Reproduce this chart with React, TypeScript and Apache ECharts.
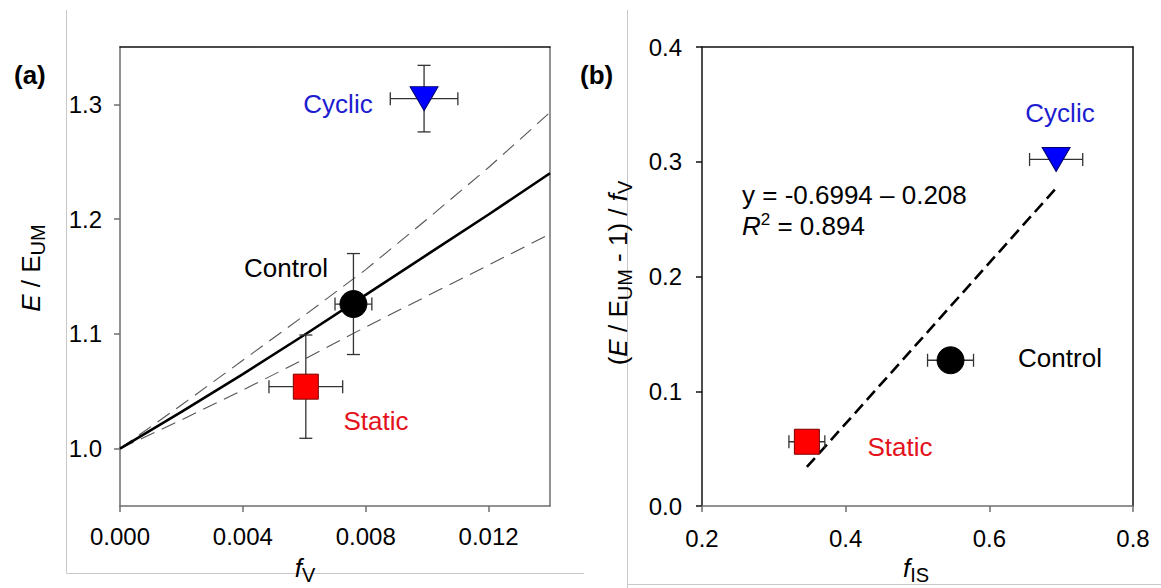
import React, { useEffect, useRef } from 'react';
import * as echarts from 'echarts';

// ---------- Panel (a) data ----------
const aNames = ['Cyclic', 'Control', 'Static'];
const aFv = [0.0099, 0.0076, 0.00605];
const aE = [1.305, 1.126, 1.054];
const aFvErr = [0.0011, 0.0006, 0.0012];
const aEErr = [0.029, 0.044, 0.045];

const modelFv = [0, 0.002, 0.004, 0.006, 0.008, 0.01, 0.012, 0.014];
const modelMid = [1.0, 1.032, 1.065, 1.099, 1.134, 1.169, 1.204, 1.24];
const modelUpper = [1.0, 1.038, 1.077, 1.116, 1.156, 1.2, 1.245, 1.293];
const modelLower = [1.0, 1.025, 1.051, 1.078, 1.106, 1.133, 1.16, 1.187];

const aXTicks = [0, 0.004, 0.008, 0.012];
const aYTicks = [1.0, 1.1, 1.2, 1.3];

// ---------- Panel (b) data ----------
const bNames = ['Cyclic', 'Control', 'Static'];
const bFis = [0.693, 0.546, 0.346];
const bY = [0.302, 0.127, 0.056];
const bFisErr = [0.037, 0.032, 0.025];
const fitFis = [0.346, 0.693];
const fitY = [0.034, 0.277];

const bXTicks = [0.2, 0.4, 0.6, 0.8];
const bYTicks = [0, 0.1, 0.2, 0.3, 0.4];

const FONT = 'Liberation Sans, Arial, sans-serif';
const GRAY = '#6e6e6e';
const BLACK = '#111';

const markerStyles = [
  { symbol: 'triangle', rotate: 180, size: [28, 24], color: '#0000ff', border: '#00006a' },
  { symbol: 'circle', rotate: 0, size: 27, color: '#000000', border: '#000000' },
  { symbol: 'rect', rotate: 0, size: 25, color: '#ff0000', border: '#7a0000' },
];

function errRender(params: any, api: any) {
  const x = api.value(0);
  const y = api.value(1);
  const dx = api.value(2);
  const dy = api.value(3);
  const cap = 6.5;
  const style = { stroke: '#333', lineWidth: 1.3 };
  const children: any[] = [];
  if (dx > 0) {
    const l = api.coord([x - dx, y]);
    const r = api.coord([x + dx, y]);
    children.push({ type: 'line', shape: { x1: l[0], y1: l[1], x2: r[0], y2: r[1] }, style });
    children.push({ type: 'line', shape: { x1: l[0], y1: l[1] - cap, x2: l[0], y2: l[1] + cap }, style });
    children.push({ type: 'line', shape: { x1: r[0], y1: r[1] - cap, x2: r[0], y2: r[1] + cap }, style });
  }
  if (dy > 0) {
    const t = api.coord([x, y + dy]);
    const b = api.coord([x, y - dy]);
    children.push({ type: 'line', shape: { x1: t[0], y1: t[1], x2: b[0], y2: b[1] }, style });
    children.push({ type: 'line', shape: { x1: t[0] - cap, y1: t[1], x2: t[0] + cap, y2: t[1] }, style });
    children.push({ type: 'line', shape: { x1: b[0] - cap, y1: b[1], x2: b[0] + cap, y2: b[1] }, style });
  }
  return { type: 'group', children };
}

const rich = {
  n: { fontSize: 26, fontFamily: FONT, fill: '#000' },
  i: { fontSize: 26, fontFamily: FONT, fontStyle: 'italic', fill: '#000' },
  s: { fontSize: 20, fontFamily: FONT, fill: '#000', padding: [14, 0, 0, 0] },
  p: { fontSize: 17, fontFamily: FONT, fill: '#000', padding: [0, 0, 14, 0] },
};

function txt(x: number, y: number, text: string, extra: any = {}, rotation = 0, align = 'center') {
  return {
    type: 'text',
    x,
    y,
    rotation,
    z: 100,
    style: {
      text,
      fontSize: 26,
      fontFamily: FONT,
      fill: '#000',
      align,
      verticalAlign: 'middle',
      rich,
      ...extra,
    },
  };
}

function axisBase(color: string, lineW = 1.5) {
  return {
    axisLine: { show: true, onZero: false, lineStyle: { color, width: lineW } },
    splitLine: { show: false },
  };
}

export default function App() {
  const ref = useRef<HTMLDivElement>(null);

  useEffect(() => {
    if (!ref.current) return;
    const chart = echarts.init(ref.current, undefined, { renderer: 'svg' });

    const tickLabel = { fontSize: 24, fontFamily: FONT, color: '#000' };

    const option: any = {
      animation: false,
      backgroundColor: '#fff',
      grid: [
        { left: 120, top: 47, width: 430, height: 459 },
        { left: 702, top: 47, width: 431, height: 459 },
      ],
      xAxis: [
        {
          gridIndex: 0, type: 'value', min: 0, max: 0.014, position: 'bottom',
          ...axisBase(GRAY),
          axisTick: { show: true, inside: false, length: 6, customValues: aXTicks, lineStyle: { color: GRAY, width: 1.5 } },
          axisLabel: { ...tickLabel, margin: 18, customValues: aXTicks, formatter: (v: number) => v.toFixed(3) },
        },
        {
          gridIndex: 0, type: 'value', min: 0, max: 0.014, position: 'top',
          ...axisBase(BLACK),
          axisTick: { show: false }, axisLabel: { show: false },
        },
        {
          gridIndex: 1, type: 'value', min: 0.2, max: 0.8, interval: 0.2, position: 'bottom',
          ...axisBase(GRAY),
          axisTick: { show: true, inside: false, length: 6, customValues: bXTicks, lineStyle: { color: GRAY, width: 1.5 } },
          axisLabel: { ...tickLabel, margin: 20, customValues: bXTicks, formatter: (v: number) => v.toFixed(1) },
        },
        {
          gridIndex: 1, type: 'value', min: 0.2, max: 0.8, position: 'top',
          ...axisBase(BLACK),
          axisTick: { show: false }, axisLabel: { show: false },
        },
      ],
      yAxis: [
        {
          gridIndex: 0, type: 'value', min: 0.95, max: 1.35, position: 'left',
          ...axisBase(GRAY),
          axisTick: { show: true, inside: false, length: 6, customValues: aYTicks, lineStyle: { color: GRAY, width: 1.5 } },
          axisLabel: { ...tickLabel, margin: 18, customValues: aYTicks, formatter: (v: number) => v.toFixed(1) },
        },
        {
          gridIndex: 0, type: 'value', min: 0.95, max: 1.35, position: 'right',
          ...axisBase(GRAY),
          axisTick: { show: false }, axisLabel: { show: false },
        },
        {
          gridIndex: 1, type: 'value', min: 0, max: 0.4, interval: 0.1, position: 'left',
          ...axisBase(BLACK),
          axisTick: { show: true, inside: false, length: 6, customValues: bYTicks, lineStyle: { color: BLACK, width: 1.5 } },
          axisLabel: { ...tickLabel, margin: 20, customValues: bYTicks, formatter: (v: number) => v.toFixed(1) },
        },
        {
          gridIndex: 1, type: 'value', min: 0, max: 0.4, position: 'right',
          ...axisBase(BLACK),
          axisTick: { show: false }, axisLabel: { show: false },
        },
      ],
      series: [
        // Panel (a) model curves
        {
          type: 'line', xAxisIndex: 0, yAxisIndex: 0, showSymbol: false, z: 3,
          data: modelFv.map((x, i) => [x, modelUpper[i]]),
          lineStyle: { color: '#555', width: 1.1, type: [15, 8] },
        },
        {
          type: 'line', xAxisIndex: 0, yAxisIndex: 0, showSymbol: false, z: 3,
          data: modelFv.map((x, i) => [x, modelLower[i]]),
          lineStyle: { color: '#555', width: 1.1, type: [15, 8] },
        },
        {
          type: 'line', xAxisIndex: 0, yAxisIndex: 0, showSymbol: false, z: 4,
          data: modelFv.map((x, i) => [x, modelMid[i]]),
          lineStyle: { color: '#000', width: 2.6 },
        },
        // Panel (a) error bars
        {
          type: 'custom', xAxisIndex: 0, yAxisIndex: 0, z: 5,
          renderItem: errRender,
          data: aFv.map((x, i) => [x, aE[i], aFvErr[i], aEErr[i]]),
        },
        // Panel (a) points
        ...aNames.map((name, i) => ({
          type: 'scatter', name, xAxisIndex: 0, yAxisIndex: 0, z: 6,
          symbol: markerStyles[i].symbol,
          symbolRotate: markerStyles[i].rotate,
          symbolSize: markerStyles[i].size,
          itemStyle: { color: markerStyles[i].color, borderColor: markerStyles[i].border, borderWidth: 1, opacity: 1 },
          data: [[aFv[i], aE[i]]],
        })),
        // Panel (b) regression line
        {
          type: 'line', xAxisIndex: 2, yAxisIndex: 2, showSymbol: false, z: 4,
          data: fitFis.map((x, i) => [x, fitY[i]]),
          lineStyle: { color: '#000', width: 2.6, type: [12, 6] },
        },
        // Panel (b) error bars
        {
          type: 'custom', xAxisIndex: 2, yAxisIndex: 2, z: 5,
          renderItem: errRender,
          data: bFis.map((x, i) => [x, bY[i], bFisErr[i], 0]),
        },
        ...bNames.map((name, i) => ({
          type: 'scatter', name, xAxisIndex: 2, yAxisIndex: 2, z: 6,
          symbol: markerStyles[i].symbol,
          symbolRotate: markerStyles[i].rotate,
          symbolSize: markerStyles[i].size,
          itemStyle: { color: markerStyles[i].color, borderColor: markerStyles[i].border, borderWidth: 1, opacity: 1 },
          data: [[bFis[i], bY[i]]],
        })),
      ],
      graphic: [
        // outer panel frames
        { type: 'line', shape: { x1: 66.5, y1: 10, x2: 66.5, y2: 573.5 }, style: { stroke: '#c8c8c8', lineWidth: 1 } },
        { type: 'line', shape: { x1: 66.5, y1: 573.5, x2: 584, y2: 573.5 }, style: { stroke: '#c8c8c8', lineWidth: 1 } },
        { type: 'line', shape: { x1: 627.5, y1: 10, x2: 627.5, y2: 588 }, style: { stroke: '#c8c8c8', lineWidth: 1 } },
        { type: 'line', shape: { x1: 627.5, y1: 584.5, x2: 1161, y2: 584.5 }, style: { stroke: '#c8c8c8', lineWidth: 1 } },
        // panel labels
        txt(14, 75, '(a)', { fontWeight: 'bold' }, 0, 'left'),
        txt(580, 75, '(b)', { fontWeight: 'bold' }, 0, 'left'),
        // axis titles
        txt(31, 268, '{i|E}{n| / E}{s|UM}', {}, Math.PI / 2),
        txt(618, 273, '{n|(}{i|E}{n| / E}{s|UM}{n| - 1) / }{i|f}{s|V}', {}, Math.PI / 2),
        txt(305, 568, '{i|f}{s|V}'),
        txt(916, 568, '{i|f}{s|IS}'),
        // panel (a) labels
        txt(338, 104, 'Cyclic', { fill: '#1c1cd0' }),
        txt(286, 268, 'Control', { fill: '#000' }),
        txt(376, 421, 'Static', { fill: '#e3121b' }),
        // panel (b) labels
        txt(1060, 113, 'Cyclic', { fill: '#1c1cd0' }),
        txt(1060, 358, 'Control', { fill: '#000' }),
        txt(900, 447, 'Static', { fill: '#e3121b' }),
        txt(742, 195, 'y = -0.6994 \u2013 0.208', {}, 0, 'left'),
        txt(742, 226, '{i|R}{p|2}{n| = 0.894}', {}, 0, 'left'),
      ],
    };

    chart.setOption(option);
    return () => chart.dispose();
  }, []);

  return (
    <div
      ref={ref}
      style={{ position: 'fixed', left: 0, top: 0, width: 1161, height: 588, background: '#fff' }}
    />
  );
}
